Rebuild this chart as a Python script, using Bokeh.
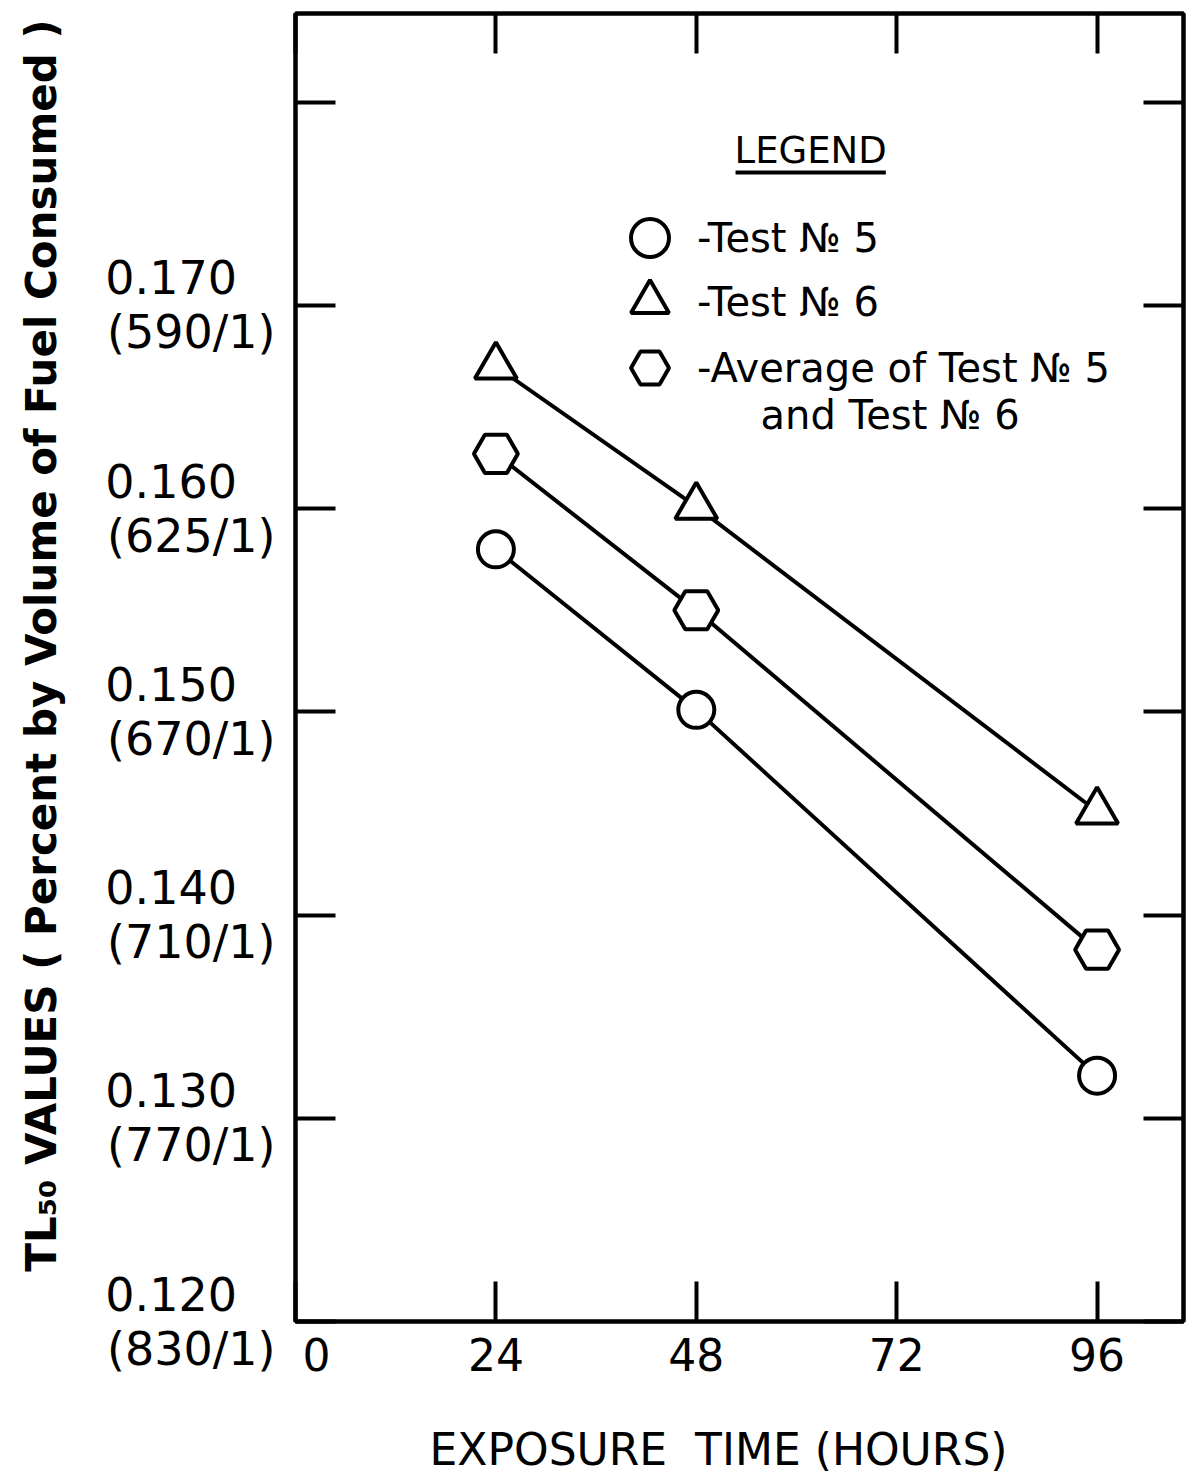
from bokeh.plotting import figure
from bokeh.models import (LinearAxis, FixedTicker, Legend, LegendItem, Label,
                          BoxAnnotation, Range1d)
from bokeh.embed import file_html
from bokeh.resources import INLINE

# ---------------- data ----------------
hours = [24, 48, 96]
test5 = [0.1580, 0.1501, 0.1321]
test6 = [0.1670, 0.1601, 0.1451]
average = [0.1627, 0.1550, 0.1383]

x_ticks = [0, 24, 48, 72, 96]
x_tick_labels = ["\u2007\u00a00", "24", "48", "72", "96"]
y_ticks = [0.12, 0.13, 0.14, 0.15, 0.16, 0.17, 0.18]
PAD = "\u2007\u2009"
y_tick_labels = ["0.120" + PAD + "\n(830/1)", "0.130" + PAD + "\n(770/1)",
                 "0.140" + PAD + "\n(710/1)", "0.150" + PAD + "\n(670/1)",
                 "0.160" + PAD + "\n(625/1)", "0.170" + PAD + "\n(590/1)", ""]

series_labels = ["-Test \u2116 5", "-Test \u2116 6", "-Average of Test \u2116 5"]
extra_label = "and Test \u2116 6"
legend_title = "LEGEND"
x_title = "EXPOSURE\u00a0\u00a0TIME (HOURS)\u00a0\u00a0\u00a0"
y_title = "\u00a0\u00a0\u00a0TL\u2085\u2080 VALUES ( Percent by Volume of Fuel Consumed )"

FONT = "DejaVu Sans"

p = figure(width=1193, height=1481, output_backend="svg", toolbar_location=None,
           x_range=Range1d(0, 106.35), y_range=Range1d(0.120, 0.18437),
           min_border_left=295, min_border_right=10, min_border_top=13,
           min_border_bottom=160, x_axis_location=None, y_axis_location=None)
p.grid.visible = False
p.outline_line_color = "black"
p.outline_line_width = 4
p.background_fill_color = "white"
p.border_fill_color = "white"


def style_axis(ax, labels=True):
    ax.axis_line_width = 4
    ax.axis_line_color = "black"
    ax.major_tick_line_width = 4
    ax.major_tick_line_color = "black"
    ax.major_tick_in = 40
    ax.major_tick_out = 0
    ax.minor_tick_line_color = None
    ax.major_label_text_color = "black"
    ax.axis_label_text_color = "black"
    if not labels:
        ax.major_label_text_font_size = "1px"
        ax.major_label_text_color = None
        ax.major_label_standoff = 0


xb = LinearAxis(ticker=FixedTicker(ticks=x_ticks),
                major_label_overrides={t: l for t, l in zip(x_ticks, x_tick_labels)},
                axis_label=x_title)
style_axis(xb)
xb.major_label_text_font = FONT
xb.major_label_text_font_size = "44px"
xb.major_label_standoff = 8
xb.axis_label_text_font = FONT
xb.axis_label_text_font_size = "44px"
xb.axis_label_text_font_style = "normal"
xb.axis_label_standoff = 40
p.add_layout(xb, "below")

yl = LinearAxis(ticker=FixedTicker(ticks=y_ticks),
                major_label_overrides={t: l for t, l in zip(y_ticks, y_tick_labels)},
                axis_label=y_title)
style_axis(yl)
yl.major_label_text_font = FONT
yl.major_label_text_font_size = "46px"
yl.major_label_text_line_height = 1.0
yl.major_label_standoff = 20
yl.axis_label_text_font = FONT
yl.axis_label_text_font_size = "42px"
yl.axis_label_text_font_style = "bold"
yl.axis_label_standoff = 36
p.add_layout(yl, "left")

xt = LinearAxis(ticker=FixedTicker(ticks=x_ticks))
style_axis(xt, labels=False)
p.add_layout(xt, "above")

yr = LinearAxis(ticker=FixedTicker(ticks=y_ticks))
style_axis(yr, labels=False)
p.add_layout(yr, "right")

# ---------------- series ----------------
for ys in (test5, test6, average):
    p.line(hours, ys, line_color="black", line_width=4)

r5 = p.scatter(hours, test5, marker="circle", size=36, fill_color="white",
               line_color="black", line_width=4)
r6 = p.scatter(hours, test6, marker="triangle", size=42, fill_color="white",
               line_color="black", line_width=4)
ra = p.scatter(hours, average, marker="hex", size=44, fill_color="white",
               line_color="black", line_width=4)

# one legend box per row, so each row sits where the reference has it
legend_rows = [(r5, series_labels[0], 1036), (r6, series_labels[1], 972),
               (ra, series_labels[2], 906)]
for rend, lab, ybot in legend_rows:
    lg = Legend(items=[LegendItem(label=lab, renderers=[rend])],
                location=(307, ybot), glyph_width=95, glyph_height=95,
                label_standoff=0, padding=0, margin=0, spacing=0,
                border_line_color=None, background_fill_alpha=0,
                label_text_font=FONT, label_text_font_size="40px",
                label_text_color="black")
    p.add_layout(lg, "center")

p.add_layout(Label(x=61.7, y=0.17763, text=legend_title, text_align="center",
                   text_baseline="middle", text_font=FONT, text_font_size="37px",
                   text_color="black"))
p.add_layout(BoxAnnotation(left=52.7, right=70.7, bottom=0.17645, top=0.17664,
                           fill_color="black", fill_alpha=1, line_color=None))
p.add_layout(Label(x=55.7, y=0.16459, text=extra_label, text_align="left",
                   text_baseline="middle", text_font=FONT, text_font_size="40px",
                   text_color="black"))

open("out.html", "w").write(file_html(p, INLINE))
